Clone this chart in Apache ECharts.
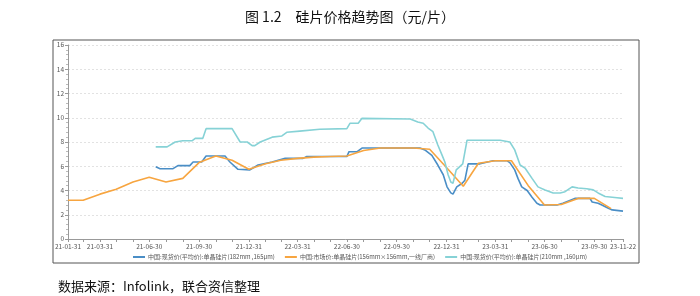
<!DOCTYPE html>
<html><head><meta charset="utf-8">
<script src="https://cdn.jsdelivr.net/npm/echarts@6/dist/echarts.min.js"></script>
<style>html,body{margin:0;padding:0;background:#fff}#c{width:700px;height:296px}</style>
</head><body><div id="c"></div>
<script>
// ---- data ----
const titleText = '图 1.2　硅片价格趋势图（元/片）';
const sourceText = '数据来源：Infolink，联合资信整理';
const seriesNames = [
  '中国:现货价(平均价):单晶硅片(182mm ,165μm)',
  '中国:市场价:单晶硅片(156mm×156mm,一线厂商)',
  '中国:现货价(平均价):单晶硅片(210mm ,160μm)'
];
const xMin = '2021-01-31';
const xMax = '2023-11-22';
const xLabelDates = ['2021-01-31','2021-03-31','2021-06-30','2021-09-30','2021-12-31','2022-03-31','2022-06-30','2022-09-30','2022-12-31','2023-03-31','2023-06-30','2023-09-30','2023-11-22'];
const xTickDates = ['2021-01-31','2021-02-28','2021-03-31','2021-04-30','2021-05-31','2021-06-30','2021-07-31','2021-08-31','2021-09-30','2021-10-31','2021-11-30','2021-12-31',
  '2022-01-31','2022-02-28','2022-03-31','2022-04-30','2022-05-31','2022-06-30','2022-07-31','2022-08-31','2022-09-30','2022-10-31','2022-11-30','2022-12-31',
  '2023-01-31','2023-02-28','2023-03-31','2023-04-30','2023-05-31','2023-06-30','2023-07-31','2023-08-31','2023-09-30','2023-10-31','2023-11-22'];

const s182Dates = ['2021-07-12','2021-07-20','2021-08-13','2021-08-22','2021-09-13','2021-09-19','2021-10-05','2021-10-13','2021-11-17','2021-11-26','2021-12-11',
  '2022-01-02','2022-01-17','2022-02-12','2022-03-08','2022-04-10','2022-04-17','2022-06-30','2022-07-04','2022-07-19','2022-07-28','2022-11-12','2022-11-21','2022-12-04','2022-12-15','2022-12-25',
  '2023-01-01','2023-01-08','2023-01-12','2023-01-19','2023-01-29','2023-02-03','2023-02-09','2023-03-03','2023-03-27','2023-04-22','2023-04-27','2023-05-06','2023-05-12','2023-05-19','2023-05-29',
  '2023-06-07','2023-06-16','2023-06-22','2023-07-23','2023-08-03','2023-08-25','2023-09-22','2023-09-26','2023-10-07','2023-10-14','2023-10-25','2023-11-02','2023-11-22'];
const s182Values = [5.95,5.8,5.8,6.05,6.05,6.35,6.35,6.85,6.85,6.35,5.75,
  5.7,6.1,6.35,6.65,6.65,6.8,6.8,7.2,7.2,7.5,7.5,7.35,6.9,6.1,5.3,
  4.3,3.8,3.7,4.3,4.6,4.85,6.2,6.2,6.45,6.45,6.3,5.7,5.0,4.3,4.0,
  3.45,2.95,2.8,2.8,2.95,3.35,3.35,3.05,2.95,2.8,2.55,2.4,2.3];

const s156Dates = ['2021-01-31','2021-02-28','2021-03-31','2021-04-30','2021-05-31','2021-06-30','2021-07-31','2021-08-31','2021-09-30','2021-10-31','2021-11-30','2021-12-31',
  '2022-01-31','2022-02-28','2022-03-31','2022-04-30','2022-05-31','2022-06-30','2022-07-31','2022-08-31','2022-09-30','2022-10-31','2022-11-30','2022-12-31',
  '2023-01-31','2023-02-28','2023-03-31','2023-04-30','2023-05-31','2023-06-30','2023-07-31','2023-08-31','2023-09-30','2023-10-31'];
const s156Values = [3.2,3.2,3.7,4.1,4.7,5.1,4.7,5.0,6.3,6.85,6.5,5.75,
  6.2,6.5,6.65,6.75,6.8,6.85,7.3,7.5,7.5,7.5,7.4,5.9,
  4.35,6.25,6.45,6.45,4.4,2.8,2.85,3.35,3.35,2.5];

const s210Dates = ['2021-07-12','2021-08-02','2021-08-17','2021-08-31','2021-09-17','2021-09-23','2021-10-07','2021-10-13','2021-11-30','2021-12-15','2021-12-28',
  '2022-01-06','2022-01-11','2022-01-21','2022-02-12','2022-03-02','2022-03-11','2022-04-04','2022-05-11','2022-06-30','2022-07-06','2022-07-21','2022-07-28','2022-10-25','2022-11-08','2022-11-18','2022-11-27','2022-12-06','2022-12-15','2022-12-23','2022-12-28',
  '2023-01-03','2023-01-08','2023-01-12','2023-01-18','2023-01-30','2023-02-07','2023-04-09','2023-04-12','2023-04-27','2023-05-06','2023-05-16','2023-05-25','2023-06-07','2023-06-18','2023-07-01','2023-07-16','2023-07-29','2023-08-07','2023-08-20','2023-08-31','2023-09-16','2023-09-28','2023-10-07','2023-10-20','2023-11-11','2023-11-22'];
const s210Values = [7.6,7.6,8.0,8.1,8.1,8.3,8.3,9.1,9.1,8.0,8.0,
  7.7,7.7,8.0,8.4,8.5,8.8,8.9,9.05,9.1,9.55,9.55,9.95,9.9,9.65,9.55,9.15,8.85,7.75,6.9,6.35,
  5.3,4.7,4.6,5.7,6.2,8.15,8.15,8.0,8.0,7.35,6.1,5.85,5.0,4.3,4.05,3.8,3.8,3.9,4.3,4.2,4.15,4.05,3.8,3.5,3.4,3.35];

const yMin = 0, yMax = 16, yInterval = 2;
const colors = ['#4a8ec6', '#f7a540', '#86d2d6'];

// ---- build ----
function ts(s){ const p = s.split('-').map(Number); return Date.UTC(p[0], p[1]-1, p[2]); }
function pairs(d, v){ return d.map((x,i)=>[ts(x), v[i]]); }
function fmt(v){ const d = new Date(v); const y = String(d.getUTCFullYear()).slice(2); const m = String(d.getUTCMonth()+1).padStart(2,'0'); const dd = String(d.getUTCDate()).padStart(2,'0'); return y+'-'+m+'-'+dd; }

const chart = echarts.init(document.getElementById('c'), null, {renderer:'canvas'});
const lineSeries = (name, data, color) => ({
  name, type:'line', data, showSymbol:false, symbol:'none',
  lineStyle:{width:1.6, color}, itemStyle:{color}, animation:false
});
chart.setOption({
  animation:false,
  textStyle:{fontFamily:'"Noto Sans CJK SC", "Noto Sans", sans-serif'},
  title:{text:titleText, left:'center', top:5, textStyle:{fontSize:14, fontWeight:'normal', color:'#111', fontFamily:'"Noto Sans CJK SC", sans-serif'}},
  graphic:[
    {type:'rect', shape:{x:53, y:40, width:586, height:223}, style:{fill:'none', stroke:'#555', lineWidth:1}, z:-1},
    {type:'text', left:58, top:280, style:{text:sourceText, fontSize:13, fill:'#111', fontFamily:'"Noto Sans CJK SC", sans-serif'}}
  ],
  legend:{
    data:seriesNames, bottom:31, left:128, itemWidth:12, itemHeight:2, itemGap:10, icon:'rect',
    textStyle:{fontSize:6, color:'#555', padding:[0,0,0,-2]}
  },
  grid:{left:68, right:77, top:45, bottom:57},
  xAxis:{
    type:'value', min:ts(xMin), max:ts(xMax),
    axisLine:{lineStyle:{color:'#999'}},
    axisTick:{customValues:xTickDates.map(ts), length:3, lineStyle:{color:'#999'}},
    axisLabel:{customValues:xLabelDates.map(ts), formatter:fmt, fontSize:6.5, color:'#555', margin:4, hideOverlap:false, showMinLabel:true, showMaxLabel:true},
    splitLine:{show:false}
  },
  yAxis:{
    type:'value', min:yMin, max:yMax, interval:yInterval,
    axisLine:{show:true, lineStyle:{color:'#999'}},
    axisTick:{show:true, length:3, lineStyle:{color:'#999'}},
    minorTick:{show:true, splitNumber:5, length:2, lineStyle:{color:'#bbb'}},
    axisLabel:{fontSize:6.5, color:'#555', margin:4},
    splitLine:{show:true, lineStyle:{color:'#e2e2e2', type:[2,2]}}
  },
  series:[
    lineSeries(seriesNames[0], pairs(s182Dates, s182Values), colors[0]),
    lineSeries(seriesNames[1], pairs(s156Dates, s156Values), colors[1]),
    lineSeries(seriesNames[2], pairs(s210Dates, s210Values), colors[2])
  ]
});
</script></body></html>
